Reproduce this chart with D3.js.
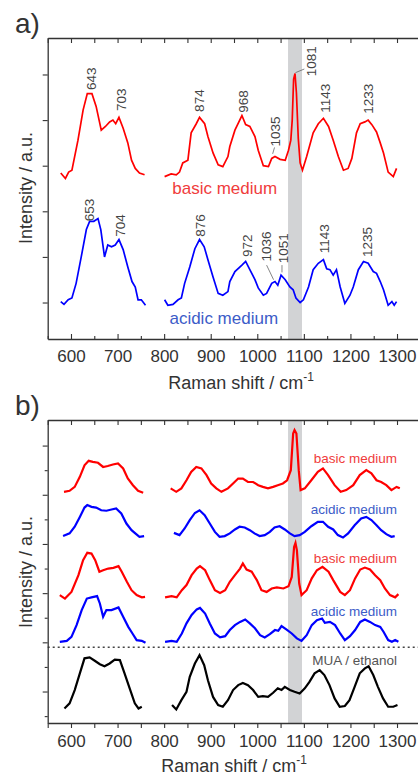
<!DOCTYPE html>
<html>
<head>
<meta charset="utf-8">
<script src="https://cdn.jsdelivr.net/npm/d3@7"></script>
<style>
  html, body { margin: 0; padding: 0; background: #fff; }
  svg text { font-family: "Liberation Sans", Arial, sans-serif; }
</style>
</head>
<body>
<div id="chart"></div>
<script>
// wavenumber axis (cm-1)
var xTicksMajor = [600, 700, 800, 900, 1000, 1100, 1200, 1300];
var xTicksAll = d3.range(550, 1351, 50);
var band = [1066, 1096];

// panel a) spectra, [wavenumber, intensity]; null = gap in the recorded range
var aBasic = [[578,18.2],[588,17.6],[595,18.3],[602,18.5],[615,21.8],[626,25.1],[635,26.9],[645,26.9],[654,25.5],[665,22.9],[674,23.3],[683,23.8],[690,24.0],[696,23.6],[703,24.3],[712,23.1],[722,21.5],[730,19.6],[738,18.7],[747,18.2],[758,18.0], null,
  [801,17.8],[815,18.1],[826,18.0],[833,18.3],[840,19.3],[851,19.6],[858,22.6],[869,23.6],[876,24.3],[887,23.6],[894,22.2],[905,20.4],[916,19.1],[926,18.9],[937,20.0],[941,21.1],[952,22.9],[967,24.5],[975,23.5],[984,23.3],[995,22.2],[1002,20.7],[1013,19.0],[1024,18.9],[1031,19.8],[1038,20.0],[1049,19.7],[1060,19.6],[1067,20.7],[1072,21.8],[1075,24.0],[1078,28.5],[1081,29.1],[1084,27.0],[1088,22.0],[1092,19.3],[1097,18.5],[1106,20.0],[1120,22.6],[1131,23.6],[1142,24.2],[1153,23.3],[1163,21.8],[1174,20.0],[1185,18.5],[1195,18.7],[1203,19.8],[1213,22.6],[1221,23.6],[1231,23.8],[1238,24.0],[1246,23.5],[1256,22.7],[1264,21.5],[1271,20.4],[1281,18.3],[1292,17.8],[1299,18.7]];
var aAcidic = [[578,4.1],[585,3.8],[594,4.3],[602,4.5],[611,6.1],[622,9.0],[633,12.0],[640,12.9],[649,12.9],[658,13.2],[664,12.0],[672,9.0],[679,10.3],[687,10.1],[695,10.3],[703,10.9],[712,9.8],[722,7.9],[731,6.3],[738,5.7],[744,4.3],[751,4.3],[760,3.7], null,
  [801,4.3],[808,3.7],[819,3.8],[830,4.3],[837,4.5],[844,6.1],[855,7.9],[866,9.9],[876,10.9],[886,10.1],[894,8.7],[905,6.8],[916,5.0],[926,4.8],[937,5.2],[941,6.3],[952,7.4],[967,8.1],[975,8.5],[984,7.6],[995,6.5],[1002,5.6],[1013,4.8],[1020,5.0],[1031,6.1],[1038,6.3],[1044,5.9],[1051,7.0],[1060,6.5],[1070,5.7],[1077,5.4],[1083,4.5],[1092,4.0],[1099,4.3],[1110,5.7],[1120,7.6],[1131,8.3],[1142,8.7],[1149,7.7],[1156,7.6],[1163,7.0],[1170,7.6],[1178,5.7],[1188,3.9],[1199,4.8],[1206,5.7],[1217,7.6],[1228,8.5],[1238,8.3],[1249,7.4],[1256,7.2],[1264,6.3],[1271,5.4],[1281,3.7],[1289,4.1],[1294,3.7],[1299,4.1]];
var aTicksY = [4, 9, 14, 19, 24, 29];

// panel a) peak labels: text, wavenumber, intensity at label foot
var aPeakLabels = [
  ["643", 644, 27.3], ["703", 707, 25.0], ["874", 876, 24.9], ["968", 970, 24.8],
  ["1035", 1038, 21.1], ["1081", 1115, 28.8], ["1143", 1145, 24.8], ["1233", 1237, 24.7],
  ["653", 639, 12.9], ["704", 706, 11.2], ["876", 878, 11.2], ["972", 978, 9.0],
  ["1036", 1018, 8.5], ["1051", 1055, 8.3], ["1143", 1143, 9.4], ["1235", 1235, 9.0]
];
var aLeaders = [[1082, 29.2, 1101, 29.6], [1033, 20.3, 1037, 21.0], [1020, 8.1, 1035, 6.5], [1053, 8.1, 1053, 7.3]];

// panel b) spectra, top to bottom
var bBasic1 = [[585,9.12],[597,9.16],[608,9.32],[619,9.73],[629,10.2],[638,10.38],[647,10.34],[658,10.3],[669,10.13],[679,10.17],[690,10.23],[701,10.27],[712,10.07],[722,9.66],[733,9.39],[744,9.16],[755,9.08], null,
  [814,9.26],[826,9.12],[837,9.26],[848,9.59],[858,9.93],[869,10.13],[880,10.07],[891,9.8],[901,9.46],[912,9.26],[923,9.12],[937,9.26],[948,9.46],[959,9.66],[969,9.66],[980,9.52],[991,9.52],[1002,9.39],[1012,9.32],[1023,9.26],[1034,9.32],[1044,9.39],[1055,9.46],[1064,9.59],[1072,10.0],[1077,11.49],[1080,11.63],[1084,11.49],[1089,10.0],[1093,9.19],[1102,9.26],[1116,9.59],[1130,9.93],[1141,10.07],[1152,9.8],[1166,9.39],[1179,9.12],[1191,9.19],[1206,9.39],[1220,9.8],[1234,10.0],[1245,9.87],[1256,9.59],[1266,9.52],[1277,9.39],[1288,9.19],[1299,9.32],[1306,9.26]];
var bAcidic1 = [[583,7.32],[597,7.43],[608,7.7],[619,8.1],[629,8.48],[635,8.58],[644,8.51],[654,8.48],[665,8.37],[676,8.35],[687,8.4],[697,8.44],[708,8.24],[719,7.83],[730,7.56],[740,7.4],[747,7.29],[757,7.32], null,
  [821,7.45],[833,7.36],[844,7.63],[855,7.97],[866,8.26],[876,8.37],[887,8.17],[898,7.83],[909,7.49],[919,7.29],[930,7.32],[941,7.43],[952,7.59],[962,7.7],[973,7.67],[984,7.56],[994,7.43],[1005,7.32],[1016,7.36],[1027,7.49],[1037,7.67],[1048,7.72],[1059,7.59],[1070,7.43],[1080,7.32],[1091,7.36],[1102,7.49],[1116,7.72],[1130,7.9],[1141,7.9],[1152,7.7],[1163,7.59],[1173,7.36],[1184,7.26],[1195,7.43],[1209,7.76],[1223,8.04],[1234,8.1],[1245,7.97],[1256,7.76],[1266,7.56],[1277,7.4],[1288,7.29],[1295,7.32]];
var bBasic2 = [[576,4.92],[587,4.78],[601,5.05],[616,5.73],[626,6.34],[635,6.64],[644,6.61],[652,6.34],[661,5.87],[669,5.93],[680,6.0],[691,6.03],[702,6.1],[709,5.87],[720,5.46],[730,5.12],[741,4.92],[752,4.83],[759,4.85], null,
  [802,4.83],[816,4.88],[827,4.83],[838,5.12],[848,5.33],[859,5.73],[870,6.0],[877,6.1],[888,5.93],[898,5.53],[909,5.12],[920,5.01],[931,5.12],[941,5.46],[952,5.73],[963,6.0],[969,6.21],[977,5.96],[988,5.87],[999,5.53],[1009,5.12],[1020,5.05],[1031,5.19],[1042,5.23],[1056,5.19],[1067,5.28],[1074,5.66],[1079,6.88],[1082,7.04],[1085,6.75],[1090,5.39],[1095,4.92],[1106,5.12],[1117,5.6],[1128,5.93],[1140,6.07],[1153,5.87],[1163,5.53],[1178,5.05],[1188,4.92],[1199,5.12],[1210,5.6],[1221,5.96],[1231,6.04],[1242,5.96],[1253,5.73],[1264,5.53],[1274,5.19],[1285,4.92],[1296,4.83],[1303,4.96]];
var bAcidic2 = [[576,3.02],[591,3.06],[601,3.22],[612,3.7],[623,4.31],[634,4.78],[644,4.83],[656,4.88],[662,4.58],[669,4.04],[676,4.31],[687,4.31],[702,4.42],[712,4.04],[723,3.63],[732,3.36],[741,3.09],[752,3.06],[760,2.98], null,
  [802,3.02],[816,3.06],[827,3.02],[838,3.36],[848,3.77],[859,4.11],[870,4.34],[877,4.4],[888,4.17],[898,3.77],[909,3.36],[920,3.2],[931,3.25],[941,3.5],[952,3.7],[963,3.83],[974,3.93],[984,3.77],[995,3.57],[1006,3.29],[1016,3.2],[1027,3.33],[1038,3.5],[1045,3.47],[1052,3.66],[1063,3.52],[1074,3.36],[1085,3.16],[1095,3.06],[1106,3.29],[1117,3.7],[1128,3.9],[1139,3.97],[1145,3.79],[1156,3.83],[1167,3.7],[1178,3.36],[1188,3.09],[1199,3.25],[1210,3.5],[1221,3.83],[1231,3.93],[1242,3.83],[1253,3.7],[1264,3.63],[1271,3.43],[1281,3.09],[1289,3.02],[1296,3.09],[1303,3.02]];
var bMua = [[586,0.31],[597,0.52],[608,1.06],[619,1.74],[629,2.35],[640,2.39],[651,2.25],[662,2.11],[672,2.03],[683,2.14],[694,2.3],[705,2.28],[715,1.74],[726,1.13],[737,0.52],[745,0.31],[752,0.38], null,
  [817,0.45],[826,0.27],[837,0.65],[848,0.99],[855,1.6],[866,2.14],[876,2.48],[886,2.07],[894,1.46],[905,0.78],[916,0.45],[926,0.38],[937,0.65],[948,1.06],[959,1.26],[969,1.35],[980,1.26],[991,1.06],[1002,0.78],[1012,0.81],[1023,0.78],[1034,0.95],[1044,1.13],[1052,1.06],[1059,1.19],[1070,1.06],[1080,0.99],[1091,0.92],[1102,1.13],[1112,1.39],[1123,1.74],[1134,1.87],[1144,1.67],[1155,1.26],[1166,0.72],[1177,0.38],[1188,0.41],[1198,0.65],[1209,1.19],[1220,1.74],[1231,1.94],[1239,2.03],[1249,1.67],[1259,1.19],[1270,0.72],[1281,0.38],[1292,0.38],[1301,0.45]];
var bTicksMajor = [1, 3, 5, 7, 9, 11];
var bTicksMinor = [0, 2, 4, 6, 8, 10];
var bSeparator = 2.8;

// series names, colours and label heights
var aNames = [["basic medium", 930, 15.9, "#f03c3c"], ["acidic medium", 928, 1.64, "#3c5cc8"]];
var bNames = [["basic medium", 10.28, "#f03c3c"], ["acidic medium", 8.21, "#3c5cc8"], ["basic medium", 6.22, "#f03c3c"], ["acidic medium", 4.07, "#3c5cc8"], ["MUA / ethanol", 2.07, "#555"]];

(function() {
    var width = 418, height = 777;
    var axisColor = '#333';
    var fmt = d3.format('d');

    var svg = d3.select('#chart').append('svg')
        .attr('width', width)
        .attr('height', height);

    var x = d3.scaleLinear().domain([550, 1350]).range([47.7, 420.3]);

    function drawFrame(top, bottom) {
        // grey band around 1081
        svg.append('rect')
            .attr('x', x(band[0]))
            .attr('y', top)
            .attr('width', x(band[1]) - x(band[0]))
            .attr('height', bottom - top)
            .attr('fill', '#d2d3d5');

        var topAxis = svg.append('g')
            .attr('transform', 'translate(0,' + top + ')')
            .call(d3.axisTop(x).tickValues(xTicksAll).tickSizeInner(-5).tickSizeOuter(0).tickFormat(''));
        styleAxis(topAxis);
    }

    function styleAxis(g) {
        g.select('.domain').attr('stroke', axisColor).attr('stroke-width', 1.3);
        g.selectAll('.tick line').attr('stroke', axisColor).attr('stroke-width', 1.1);
        g.selectAll('.tick text')
            .attr('fill', '#333')
            .style('font-size', '17px')
            .style('font-family', '"Liberation Sans", Arial, sans-serif');
    }

    var line = function(y) {
        return d3.line()
            .defined(function(d) { return d !== null; })
            .x(function(d) { return x(d[0]); })
            .y(function(d) { return y(d[1]); });
    };

    function axisTitles(yMid, xTitleBase, tagBase, tag) {
        svg.append('text')
            .attr('x', 15)
            .attr('y', tagBase)
            .attr('fill', '#333')
            .style('font-size', '28px')
            .text(tag);

        svg.append('text')
            .attr('transform', 'translate(32,' + yMid + ') rotate(-90)')
            .attr('text-anchor', 'middle')
            .attr('fill', '#333')
            .style('font-size', '18px')
            .text('Intensity / a.u.');

        var t = svg.append('text')
            .attr('x', xTitleBase[0])
            .attr('y', xTitleBase[1])
            .attr('text-anchor', 'middle')
            .attr('fill', '#333')
            .style('font-size', '18px');
        t.append('tspan').text('Raman shift / cm');
        t.append('tspan').attr('dy', -8).style('font-size', '12px').text('-1');
    }

    // ---------- panel a ----------
    var ya = d3.scaleLinear().domain([0, 33]).range([339, 38]);
    drawFrame(38, 339);

    svg.append('path').datum(aBasic)
        .attr('d', line(ya))
        .attr('fill', 'none').attr('stroke', '#ff0000').attr('stroke-width', 1.7);
    svg.append('path').datum(aAcidic)
        .attr('d', line(ya))
        .attr('fill', 'none').attr('stroke', '#0000ff').attr('stroke-width', 1.7);

    svg.append('g').selectAll('line')
        .data(aLeaders)
        .join('line')
        .attr('x1', function(d) { return x(d[0]); })
        .attr('y1', function(d) { return ya(d[1]); })
        .attr('x2', function(d) { return x(d[2]); })
        .attr('y2', function(d) { return ya(d[3]); })
        .attr('stroke', '#666')
        .attr('stroke-width', 0.8);

    svg.append('g').selectAll('text')
        .data(aPeakLabels)
        .join('text')
        .attr('transform', function(d) { return 'translate(' + x(d[1]) + ',' + ya(d[2]) + ') rotate(-90)'; })
        .attr('dy', '0.36em')
        .attr('fill', '#444')
        .style('font-size', '13.5px')
        .text(function(d) { return d[0]; });

    svg.append('g').selectAll('text')
        .data(aNames)
        .join('text')
        .attr('x', function(d) { return x(d[1]); })
        .attr('y', function(d) { return ya(d[2]); })
        .attr('text-anchor', 'middle')
        .attr('fill', function(d) { return d[3]; })
        .style('font-size', '17px')
        .text(function(d) { return d[0]; });

    var aBottom = svg.append('g')
        .attr('transform', 'translate(0,339)')
        .call(d3.axisBottom(x).tickValues(xTicksMajor).tickSizeInner(-5).tickSizeOuter(0).tickPadding(11).tickFormat(fmt));
    styleAxis(aBottom);
    var aMinor = svg.append('g')
        .attr('transform', 'translate(0,339)')
        .call(d3.axisBottom(x).tickValues(xTicksAll.filter(function(v) { return v % 100 !== 0; })).tickSizeInner(-3).tickSizeOuter(0).tickFormat(''));
    styleAxis(aMinor);
    aMinor.select('.domain').remove();

    var aLeft = svg.append('g')
        .attr('transform', 'translate(' + x(550) + ',0)')
        .call(d3.axisLeft(ya).tickValues(aTicksY).tickSizeInner(5).tickSizeOuter(0).tickFormat(''));
    styleAxis(aLeft);

    axisTitles(188, [241, 389], 33, 'a)');

    // ---------- panel b ----------
    var yb = d3.scaleLinear().domain([-0.28, 12.04]).range([723, 420]);
    drawFrame(420, 723);

    svg.append('line')
        .attr('x1', x(550)).attr('x2', width)
        .attr('y1', yb(bSeparator)).attr('y2', yb(bSeparator))
        .attr('stroke', '#444')
        .attr('stroke-width', 1.3)
        .attr('stroke-dasharray', '2,3');

    var bSeries = [[bBasic1, '#ff0000'], [bAcidic1, '#0000ff'], [bBasic2, '#ff0000'], [bAcidic2, '#0000ff'], [bMua, '#000000']];
    svg.append('g').selectAll('path')
        .data(bSeries)
        .join('path')
        .attr('d', function(d) { return line(yb)(d[0]); })
        .attr('fill', 'none')
        .attr('stroke', function(d) { return d[1]; })
        .attr('stroke-width', 2.2);

    svg.append('g').selectAll('text')
        .data(bNames)
        .join('text')
        .attr('x', x(1300))
        .attr('y', function(d) { return yb(d[1]); })
        .attr('text-anchor', 'end')
        .attr('fill', function(d) { return d[2]; })
        .style('font-size', '13.5px')
        .text(function(d) { return d[0]; });

    var bBottom = svg.append('g')
        .attr('transform', 'translate(0,723)')
        .call(d3.axisBottom(x).tickValues(xTicksAll).tickSizeInner(5).tickSizeOuter(0).tickPadding(7)
            .tickFormat(function(v) { return xTicksMajor.indexOf(v) >= 0 ? fmt(v) : ''; }));
    styleAxis(bBottom);

    var bLeft = svg.append('g')
        .attr('transform', 'translate(' + x(550) + ',0)')
        .call(d3.axisLeft(yb).tickValues(bTicksMajor).tickSizeInner(5).tickSizeOuter(0).tickFormat(''));
    styleAxis(bLeft);
    var bLeftMinor = svg.append('g')
        .attr('transform', 'translate(' + x(550) + ',0)')
        .call(d3.axisLeft(yb).tickValues(bTicksMinor).tickSizeInner(3).tickSizeOuter(0).tickFormat(''));
    styleAxis(bLeftMinor);
    bLeftMinor.select('.domain').remove();

    axisTitles(572, [234, 772], 415, 'b)');
})();
</script>
</body>
</html>
